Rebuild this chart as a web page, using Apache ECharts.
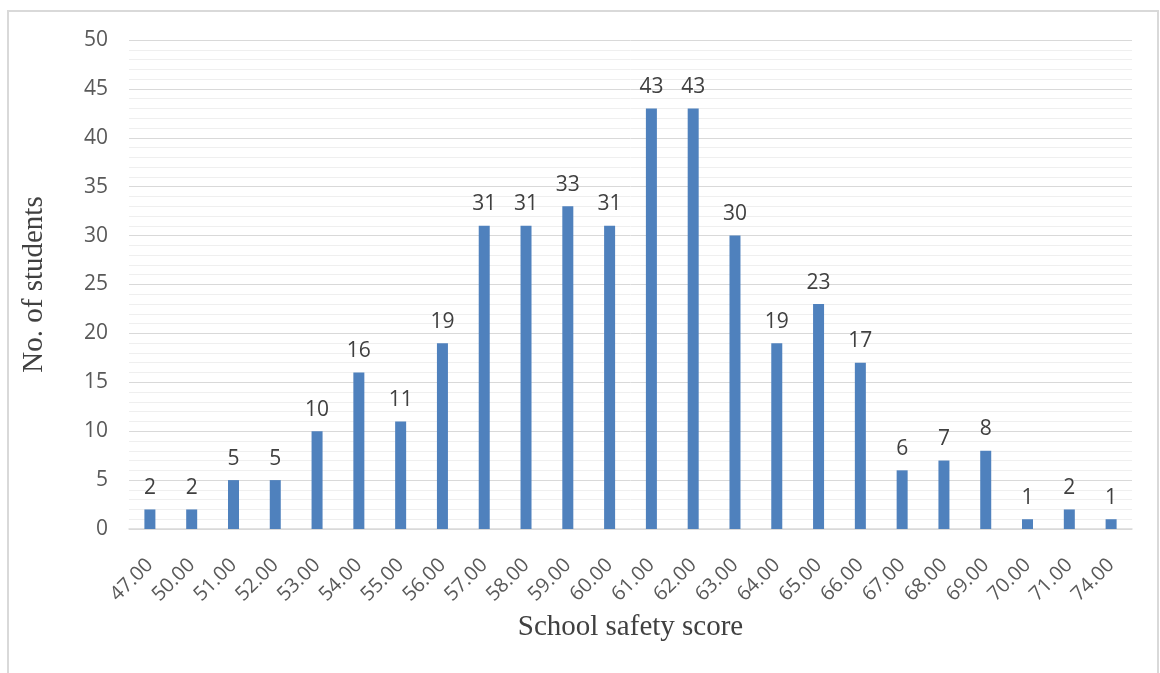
<!DOCTYPE html>
<html>
<head>
<meta charset="utf-8">
<script src="https://cdn.jsdelivr.net/npm/echarts@6/dist/echarts.min.js"></script>
<style>
html,body{margin:0;padding:0;background:#fff;}
#frame{position:absolute;left:7px;top:10px;width:1152px;height:680px;border:2px solid #d9d9d9;box-sizing:border-box;}
#chart{position:absolute;left:0;top:0;width:1160px;height:673px;}
</style>
</head>
<body>
<div id="frame"></div>
<div id="chart"></div>
<script>
const categories = ['47.00','50.00','51.00','52.00','53.00','54.00','55.00','56.00','57.00','58.00','59.00','60.00','61.00','62.00','63.00','64.00','65.00','66.00','67.00','68.00','69.00','70.00','71.00','74.00'];
const students = [2,2,5,5,10,16,11,19,31,31,33,31,43,43,30,19,23,17,6,7,8,1,2,1];
const yTicks = {min:0, max:50, interval:5};

const chart = echarts.init(document.getElementById('chart'));
chart.setOption({
  animation:false,
  grid:{left:129, right:28, top:40, bottom:144},
  xAxis:{
    type:'category', data:categories,
    name:'School safety score', nameLocation:'middle', nameGap:84,
    nameTextStyle:{fontFamily:'Liberation Serif', fontSize:29, color:'#404040'},
    axisLine:{lineStyle:{color:'#d9d9d9', width:1.5}},
    axisTick:{show:false},
    axisLabel:{rotate:45, fontFamily:'Open Sans', fontSize:20, color:'#595959', margin:33, interval:0}
  },
  yAxis:{
    type:'value', min:yTicks.min, max:yTicks.max, interval:yTicks.interval,
    name:'No. of students', nameLocation:'middle', nameGap:80,
    nameTextStyle:{fontFamily:'Liberation Serif', fontSize:29, color:'#404040'},
    axisLine:{show:false}, axisTick:{show:false},
    axisLabel:{fontFamily:'Open Sans', fontSize:21, color:'#595959', margin:21},
    splitLine:{lineStyle:{color:'#d9d9d9', width:1}},
    minorTick:{show:false, splitNumber:5},
    minorSplitLine:{show:true, lineStyle:{color:'#efefef', width:1}}
  },
  series:[{
    type:'bar', data:students, barWidth:11,
    itemStyle:{color:'#4f81bd'},
    label:{show:true, position:'top', distance:11, fontFamily:'Open Sans', fontSize:21, color:'#404040'}
  }]
});
</script>
</body>
</html>
